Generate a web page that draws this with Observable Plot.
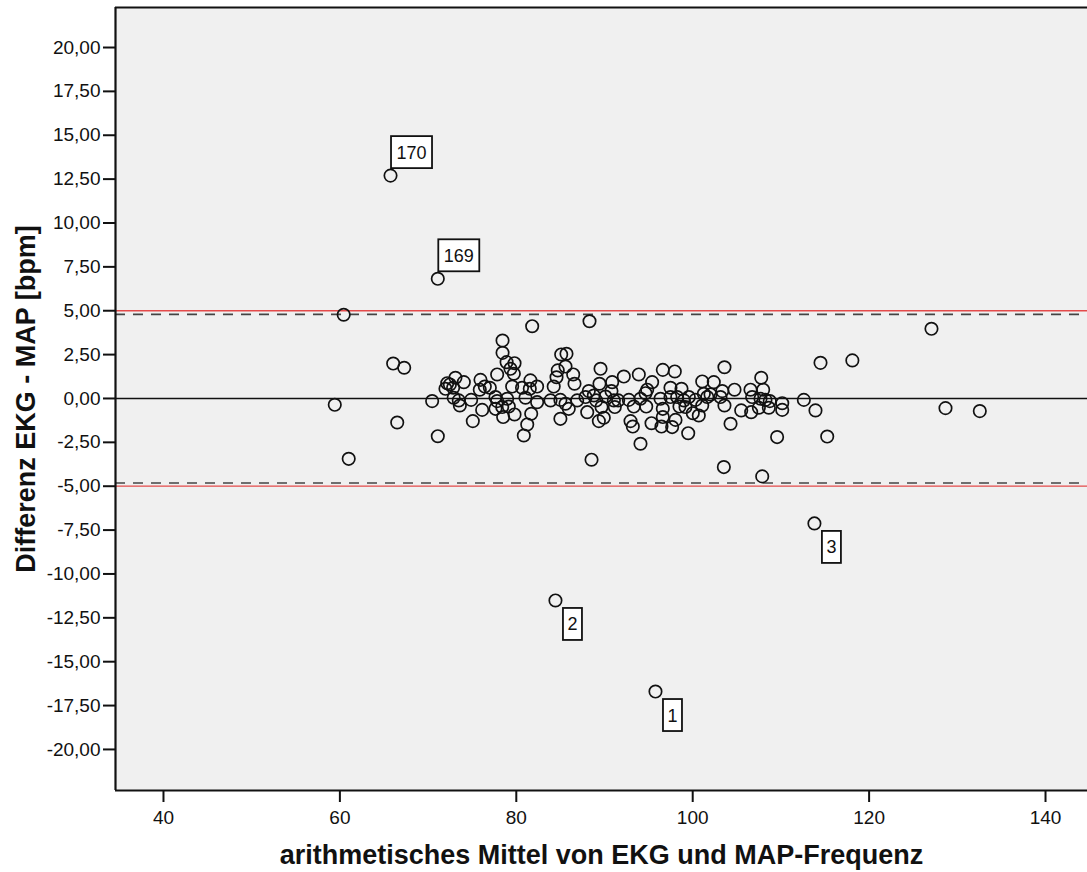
<!DOCTYPE html>
<html>
<head>
<meta charset="utf-8">
<script src="https://cdn.jsdelivr.net/npm/d3@7"></script>
<script src="https://cdn.jsdelivr.net/npm/@observablehq/plot@0.6"></script>
<style>
  body { margin: 0; background: #fff; }
  #chart svg { display: block; }
</style>
</head>
<body>
<div id="chart"></div>
<script>
// ---- Data ----
// mean of ECG and MAP heart rate (x) and difference ECG - MAP (y)
const meanHR = [
  60.43, 81.8, 66.04, 67.29, 59.42, 66.5, 61.0, 70.46, 71.1, 75.07,
  78.44, 78.44, 78.9, 79.8, 79.34, 79.72, 77.83, 79.53, 75.94, 76.43,
  77.0, 75.86, 73.1, 74.05, 72.17, 72.47, 71.97, 72.84, 72.9, 73.48,
  73.6, 74.88, 76.13, 77.64, 77.83, 78.4, 77.64, 78.96, 79.15, 79.8,
  78.51, 80.65, 81.6, 81.53, 82.36, 81.04, 82.36, 81.69, 81.24, 80.85,
  84.24, 84.56, 85.09, 85.69, 84.7, 85.58, 86.45, 86.6, 83.88, 85.0,
  85.58, 85.95, 85.0, 86.9, 88.3, 89.55, 89.43, 90.87, 92.19, 93.89,
  95.4, 96.61, 97.97, 101.08, 102.39, 88.22, 87.85, 88.79, 89.06, 90.11,
  90.79, 91.06, 91.55, 91.17, 88.04, 89.66, 89.36, 89.92, 92.76, 93.32,
  94.08, 94.65, 94.84, 94.73, 92.95, 93.21, 95.33, 94.08, 88.53, 96.35,
  96.61, 96.61, 96.46, 97.67, 98.05, 97.48, 97.48, 98.24, 98.73, 99.0,
  99.56, 98.5, 99.18, 100.01, 100.69, 99.49, 100.32, 101.26, 101.08, 101.65,
  103.6, 103.35, 102.02, 103.15, 103.6, 104.74, 105.5, 104.29, 106.55, 106.74,
  107.77, 107.99, 107.69, 108.25, 108.74, 106.63, 107.5, 108.63, 110.15, 110.15,
  112.6, 113.92, 114.49, 118.1, 109.57, 115.25, 103.53, 107.88, 127.07, 128.66,
  132.55
];
const diffHR = [
  4.77, 4.12, 1.99, 1.75, -0.36, -1.37, -3.44, -0.15, -2.15, -1.29,
  3.30, 2.60, 2.07, 2.01, 1.69, 1.41, 1.37, 0.68, 1.06, 0.68,
  0.61, 0.50, 1.18, 0.93, 0.87, 0.80, 0.55, 0.61, 0.04, -0.11,
  -0.40, -0.08, -0.65, 0.08, -0.15, -0.49, -0.59, -0.02, -0.46, -0.91,
  -1.06, 0.61, 1.03, 0.55, 0.68, 0.04, -0.21, -0.87, -1.48, -2.11,
  0.68, 1.21, 2.51, 2.55, 1.60, 1.82, 1.37, 0.84, -0.11, -0.08,
  -0.30, -0.59, -1.16, -0.11, 4.40, 1.69, 0.84, 0.93, 1.25, 1.37,
  0.93, 1.63, 1.54, 0.97, 0.93, 0.42, 0.08, 0.17, -0.11, 0.11,
  0.42, -0.11, -0.11, -0.49, -0.78, -0.49, -1.29, -1.10, -0.08, -0.46,
  -0.02, 0.30, 0.50, -0.46, -1.29, -1.60, -1.41, -2.58, -3.49, -0.02,
  -0.59, -1.06, -1.60, -1.63, -1.22, 0.61, 0.08, 0.08, 0.55, -0.11,
  0.08, -0.46, -0.49, -0.84, -0.97, -1.98, -0.08, 0.27, -0.40, 0.08,
  1.78, 0.42, 0.23, 0.08, -0.40, 0.50, -0.68, -1.44, 0.50, 0.08,
  1.18, 0.50, -0.02, -0.08, -0.15, -0.78, -0.53, -0.53, -0.27, -0.65,
  -0.08, -0.68, 2.03, 2.17, -2.20, -2.17, -3.91, -4.44, 3.97, -0.55,
  -0.72
];
// labelled outliers (case numbers)
const labelIds  = ["170", "169", "2", "1", "3"];
const labelMean = [65.74, 71.1, 84.44, 95.78, 113.8];
const labelDiff = [12.7, 6.82, -11.51, -16.7, -7.12];

// reference lines
const limitLines = [5.0, -5.0];        // red solid
const agreementLines = [4.79, -4.82];  // dashed (mean ± 1.96 SD)
const meanLine = [0];                  // solid black

// ticks
const yTicks = d3.range(-20, 20.001, 2.5);
const xTicks = [40, 60, 80, 100, 120, 140];

const xTitle = "arithmetisches Mittel von EKG und MAP-Frequenz";
const yTitle = "Differenz EKG - MAP [bpm]";

// ---- Plot ----
const xDomain = [34.56, 144.76];
const yDomain = [-22.34, 22.28];
const points = meanHR.map((m, i) => ({m, d: diffHR[i]}));
const labelled = labelIds.map((id, i) => ({id, m: labelMean[i], d: labelDiff[i]}));
const ink = "#111";
const font = "'Liberation Sans', Arial, sans-serif";

const plot = Plot.plot({
  width: 1087,
  height: 872,
  marginLeft: 115,
  marginTop: 7,
  marginBottom: 82,
  marginRight: 0,
  style: {fontFamily: font, fontSize: "19px", color: ink, background: "#fff", overflow: "visible"},
  x: {domain: xDomain},
  y: {domain: yDomain},
  marks: [
    Plot.frame({fill: "#f0f0f0", stroke: null}),
    Plot.ruleY(limitLines, {stroke: "#e34a4a", strokeWidth: 1.3}),
    Plot.ruleY(agreementLines, {stroke: "#444", strokeWidth: 1.6, strokeDasharray: "10,8"}),
    Plot.ruleY(meanLine, {stroke: ink, strokeWidth: 1.6}),
    Plot.dot(points, {x: "m", y: "d", r: 6.2, stroke: ink, strokeWidth: 1.7, fill: "none"}),
    Plot.dot(labelled, {x: "m", y: "d", r: 6.2, stroke: ink, strokeWidth: 1.7, fill: "none"}),
    Plot.ruleX([xDomain[0]], {stroke: ink, strokeWidth: 2.2}),
    Plot.ruleY([yDomain[0], yDomain[1]], {stroke: ink, strokeWidth: 2.2}),
    Plot.axisY({ticks: yTicks, tickSize: 12, tickPadding: 3, strokeWidth: 2, label: null,
      fontSize: 19, tickFormat: d => d.toFixed(2).replace(".", ",").replace("-0,00", "0,00")}),
    Plot.axisX({ticks: xTicks, tickSize: 12, tickPadding: 8, strokeWidth: 2, label: null,
      fontSize: 19, tickFormat: d => String(d)}),
    Plot.text([xTitle], {text: d => d, frameAnchor: "bottom", dy: 73, fontSize: 27, fontWeight: "bold", fill: ink}),
    Plot.text([yTitle], {text: d => d, frameAnchor: "left", textAnchor: "middle", dx: -89, rotate: -90,
      fontSize: 27, fontWeight: "bold", fill: ink})
  ]
});

// label boxes attached to the outlier points, positioned through Plot's scales
const sx = plot.scale("x"), sy = plot.scale("y");
const g = d3.select(plot).append("g").attr("font-family", font).attr("font-size", 18);
labelled.forEach(p => {
  const cx = sx.apply(p.m), cy = sy.apply(p.d);
  const w = 8 + 11 * p.id.length, h = 32;
  let bx, by;
  if (p.d > 0) { bx = cx + 1; by = cy - 7 - h; }
  else { bx = cx + 8; by = cy + 8; }
  g.append("rect").attr("x", bx).attr("y", by).attr("width", w).attr("height", h)
    .attr("fill", "#fff").attr("stroke", ink).attr("stroke-width", 1.8);
  g.append("text").attr("x", bx + w / 2).attr("y", by + h / 2).attr("dy", "0.36em")
    .attr("text-anchor", "middle").attr("fill", ink).text(p.id);
});

document.getElementById("chart").appendChild(plot);
</script>
</body>
</html>
